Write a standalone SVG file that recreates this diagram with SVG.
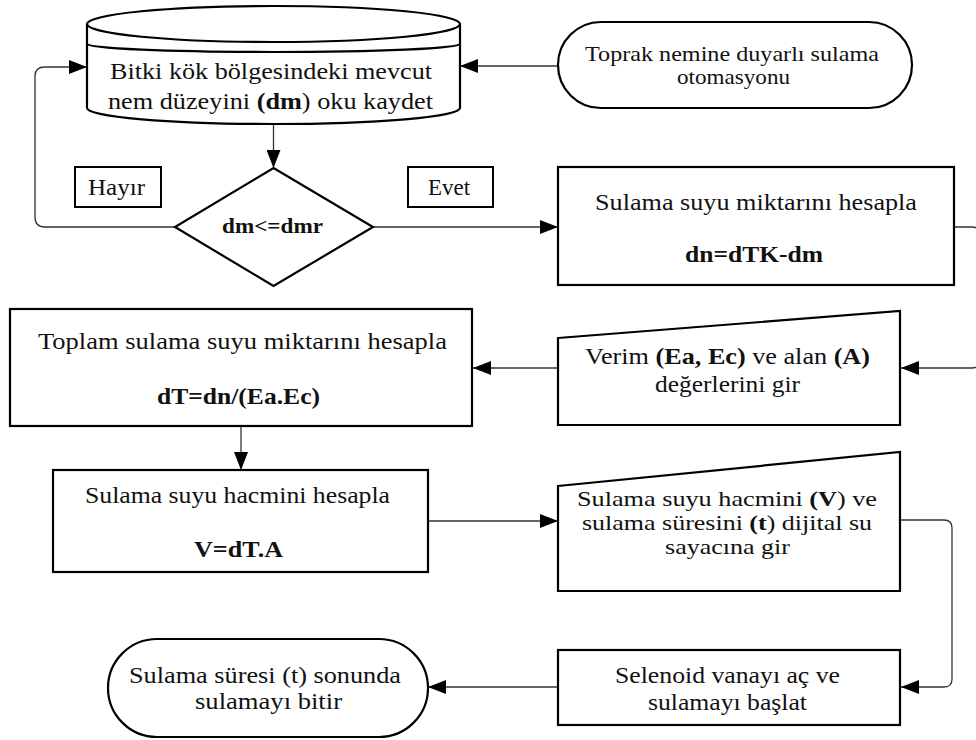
<svg xmlns="http://www.w3.org/2000/svg" width="976" height="740" viewBox="0 0 976 740" font-family="'Liberation Serif', 'Times New Roman', serif">
<style>
.shape{fill:#fff;stroke:#000;stroke-width:2.2}
.lbl{fill:#fff;stroke:#000;stroke-width:2}
.conn{fill:none;stroke:#333;stroke-width:1.3}
.t{font-family:'Liberation Serif','Times New Roman',serif;font-size:23px;fill:#111}
.s{font-size:21px}
.b{font-weight:bold}
</style>
<defs>
<marker id="ah" markerUnits="userSpaceOnUse" markerWidth="20" markerHeight="14" refX="18" refY="7" orient="auto">
<path d="M0,0 L18,7 L0,14 z" fill="#000"/>
</marker>
</defs>
<g id="connectors">
<path class="conn" d="M558,66 H460" marker-end="url(#ah)"/>
<path class="conn" d="M273.5,124 V168" marker-end="url(#ah)"/>
<path class="conn" d="M175,227 H45 Q35,227 35,217 V76 Q35,67 45,67 H87" marker-end="url(#ah)"/>
<path class="conn" d="M373,227 H558" marker-end="url(#ah)"/>
<path class="conn" d="M954,227 H972 Q980,227 980,235 V360 Q980,368 972,368 H901" marker-end="url(#ah)"/>
<path class="conn" d="M558,368 H473" marker-end="url(#ah)"/>
<path class="conn" d="M241,426 V470" marker-end="url(#ah)"/>
<path class="conn" d="M428,521 H558" marker-end="url(#ah)"/>
<path class="conn" d="M900,520 H944 Q952,520 952,528 V679 Q952,687 944,687 H901" marker-end="url(#ah)"/>
<path class="conn" d="M558,687 H428" marker-end="url(#ah)"/>
</g>
<g id="n_read">
<path class="shape" d="M87,24 V108 A186.5,16 0 0 0 460,108 V24"/>
<ellipse class="shape" cx="273.5" cy="24" rx="186.5" ry="18"/>
<path class="shape" d="M87,44 A186.5,8 0 0 0 460,44" fill="none"/>
<text class="t" x="110" y="79" textLength="322" lengthAdjust="spacingAndGlyphs">Bitki kök bölgesindeki mevcut</text>
<text class="t" x="108" y="109" textLength="325" lengthAdjust="spacingAndGlyphs">nem düzeyini <tspan class="b">(dm</tspan>) oku kaydet</text>
</g>
<g id="n_start">
<rect class="shape" x="558" y="22" width="354" height="86" rx="43" ry="43"/>
<text class="t s" x="585" y="61" textLength="294" lengthAdjust="spacingAndGlyphs">Toprak nemine duyarlı sulama</text>
<text class="t s" x="677" y="84" textLength="113" lengthAdjust="spacingAndGlyphs">otomasyonu</text>
</g>
<g id="n_hayir">
<rect class="lbl" x="75" y="167" width="86" height="40"/>
<text class="t" x="88" y="195" textLength="57" lengthAdjust="spacingAndGlyphs">Hayır</text>
</g>
<g id="n_evet">
<rect class="lbl" x="408" y="167" width="85" height="40"/>
<text class="t" x="428" y="195" textLength="42" lengthAdjust="spacingAndGlyphs">Evet</text>
</g>
<g id="n_decision">
<polygon class="shape" points="273.5,168 373,227 273.5,286 175,227"/>
<text class="t b" x="222" y="233" textLength="101" lengthAdjust="spacingAndGlyphs" style="font-size:20px">dm&lt;=dmr</text>
</g>
<g id="n_dn">
<rect class="shape" x="558" y="167" width="396" height="118"/>
<text class="t" x="595" y="210" textLength="322" lengthAdjust="spacingAndGlyphs">Sulama suyu miktarını hesapla</text>
<text class="t b" x="685" y="262" textLength="138" lengthAdjust="spacingAndGlyphs">dn=dTK-dm</text>
</g>
<g id="n_input1">
<polygon class="shape" points="558,338 900,311 900,425 558,425"/>
<text class="t" x="585" y="364" textLength="285" lengthAdjust="spacingAndGlyphs">Verim <tspan class="b">(Ea, Ec)</tspan> ve alan <tspan class="b">(A)</tspan></text>
<text class="t" x="655" y="392" textLength="145" lengthAdjust="spacingAndGlyphs">değerlerini gir</text>
</g>
<g id="n_dT">
<rect class="shape" x="10" y="309" width="462" height="117"/>
<text class="t" x="38" y="349" textLength="409" lengthAdjust="spacingAndGlyphs">Toplam sulama suyu miktarını hesapla</text>
<text class="t b" x="157" y="404" textLength="163" lengthAdjust="spacingAndGlyphs">dT=dn/(Ea.Ec)</text>
</g>
<g id="n_V">
<rect class="shape" x="53" y="470" width="375" height="102"/>
<text class="t" x="85" y="503" textLength="305" lengthAdjust="spacingAndGlyphs">Sulama suyu hacmini hesapla</text>
<text class="t b" x="194" y="557" textLength="89" lengthAdjust="spacingAndGlyphs">V=dT.A</text>
</g>
<g id="n_input2">
<polygon class="shape" points="558,486 900,452 900,591 558,591"/>
<text class="t s" x="577" y="506" textLength="300" lengthAdjust="spacingAndGlyphs">Sulama suyu hacmini <tspan class="b">(V</tspan>) ve</text>
<text class="t s" x="582" y="530" textLength="290" lengthAdjust="spacingAndGlyphs">sulama süresini <tspan class="b">(t</tspan>) dijital su</text>
<text class="t s" x="665" y="554" textLength="125" lengthAdjust="spacingAndGlyphs">sayacına gir</text>
</g>
<g id="n_valve">
<rect class="shape" x="558" y="650" width="342" height="75"/>
<text class="t" x="615" y="683" textLength="225" lengthAdjust="spacingAndGlyphs">Selenoid vanayı aç ve</text>
<text class="t" x="648" y="710" textLength="159" lengthAdjust="spacingAndGlyphs">sulamayı başlat</text>
</g>
<g id="n_end">
<rect class="shape" x="108" y="639" width="320" height="98" rx="49" ry="49"/>
<text class="t" x="129" y="683" textLength="272" lengthAdjust="spacingAndGlyphs">Sulama süresi (t) sonunda</text>
<text class="t" x="195" y="709" textLength="147" lengthAdjust="spacingAndGlyphs">sulamayı bitir</text>
</g>
</svg>
